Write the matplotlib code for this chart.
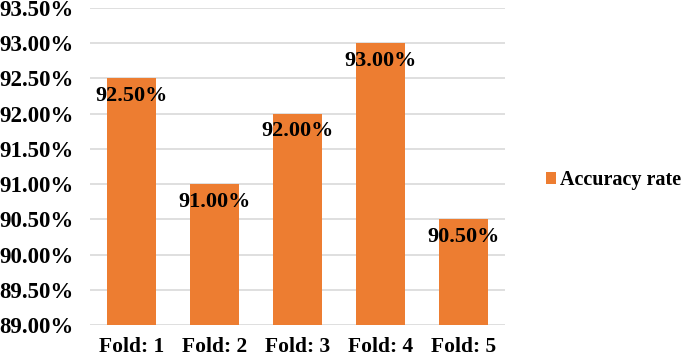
import matplotlib
matplotlib.use("Agg")
import numpy as np
import matplotlib.pyplot as plt
from matplotlib.ticker import FuncFormatter

folds = ['Fold: 1', 'Fold: 2', 'Fold: 3', 'Fold: 4', 'Fold: 5']
accuracy = [92.50, 91.00, 92.00, 93.00, 90.50]
series_name = 'Accuracy rate'

plt.rcParams['font.family'] = ['Liberation Serif', 'DejaVu Serif']
plt.rcParams['font.weight'] = 'bold'

fig = plt.figure(figsize=(6.85, 3.58), dpi=100)
ax = fig.add_axes([90 / 685, 1 - 325 / 358, 415 / 685, 317 / 358])

x = np.arange(len(folds))
ax.bar(x, accuracy, width=0.58, color='#ED7D31', label=series_name, zorder=2)
ax.set_ylim(89.0, 93.5)
ax.set_xlim(-0.5, len(folds) - 0.5)
ax.set_yticks(np.arange(89.0, 93.51, 0.5))
ax.yaxis.set_major_formatter(FuncFormatter(lambda v, p: '{:.2f}%'.format(v)))
ax.set_xticks(x)
ax.set_xticklabels(folds)
ax.grid(axis='y', color='#d9d9d9', linewidth=1.2, zorder=0)
for s in ax.spines.values():
    s.set_visible(False)
ax.tick_params(length=0)
ax.tick_params(axis='y', labelsize=16.5, pad=12)
ax.tick_params(axis='x', labelsize=15.5, pad=9)
for lbl in ax.get_xticklabels() + ax.get_yticklabels():
    lbl.set_fontweight('bold')

for xi, v in zip(x, accuracy):
    ax.text(xi, v - 0.11, '{:.2f}%'.format(v), ha='center', va='top',
            fontsize=16, fontweight='bold', zorder=3)

leg = fig.legend(loc='center left', bbox_to_anchor=(528 / 685, 1 - 180 / 358),
                 frameon=False, fontsize=14.5, handlelength=0.5, handleheight=0.5,
                 handletextpad=0.2)
for t in leg.get_texts():
    t.set_fontweight('bold')

fig.savefig('out.png', dpi=100)
